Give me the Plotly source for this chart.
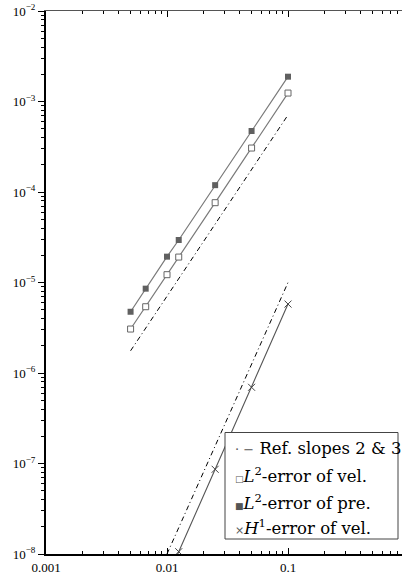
import plotly.graph_objects as go

h = [0.005, 1/150, 0.01, 0.0125, 0.025, 0.05, 0.1]
l2_vel = [3.06e-6, 5.4e-6, 1.22e-5, 1.91e-5, 7.62e-5, 3.06e-4, 1.24e-3]
l2_pre = [4.75e-6, 8.55e-6, 1.93e-5, 2.95e-5, 1.19e-4, 4.72e-4, 1.88e-3]
h_h1 = [0.01, 0.0125, 0.025, 0.05, 0.1]
h1_vel = [5.5e-9, 1.06e-8, 8.63e-8, 6.95e-7, 5.78e-6]
ref2_x = [0.005, 0.1]
ref2_y = [1.76e-6, 7.1e-4]
ref3_x = [0.01, 0.1]
ref3_y = [1.0e-8, 1.0e-5]

legend_markers = ["· −", "□", "■", "×"]
legend_labels = [" Ref. slopes 2 &amp; 3",
                 "<i>L</i><sup>2</sup>-error of vel.",
                 "<i>L</i><sup>2</sup>-error of pre.",
                 "<i>H</i><sup>1</sup>-error of vel."]
ytick_vals = [1e-8, 1e-7, 1e-6, 1e-5, 1e-4, 1e-3, 1e-2]
ytick_text = ["10<sup>−8</sup>", "10<sup>−7</sup>", "10<sup>−6</sup>", "10<sup>−5</sup>",
              "10<sup>−4</sup>", "10<sup>−3</sup>", "10<sup>−2</sup>"]
xtick_vals = [0.001, 0.01, 0.1]
xtick_text = ["0.001", "0.01", "0.1"]

FONT = "Liberation Serif"
LFONT = "DejaVu Serif"
W, H = 402, 582
PL, PT, PB = 46, 11, 554
ML, MT, MB = PL, PT, H - PB
PH = PB - PT
VIS_R = W
xr = [-3, -3 + (VIS_R - PL) / 121.0]
PWV = VIS_R - PL

fig = go.Figure()
line_gray = "#7a7a7a"
fig.add_trace(go.Scatter(x=ref2_x, y=ref2_y, mode="lines",
                         line=dict(color="black", width=1, dash="5px,3px,1px,3px")))
fig.add_trace(go.Scatter(x=ref3_x, y=ref3_y, mode="lines",
                         line=dict(color="black", width=1, dash="5px,3px,1px,3px")))
fig.add_trace(go.Scatter(x=h, y=l2_vel, mode="lines+markers",
                         line=dict(color=line_gray, width=1.2),
                         marker=dict(symbol="square", size=6, color="white",
                                     line=dict(color="#666666", width=1))))
fig.add_trace(go.Scatter(x=h, y=l2_pre, mode="lines+markers",
                         line=dict(color=line_gray, width=1.2),
                         marker=dict(symbol="square", size=6, color="#606060",
                                     line=dict(color="#606060", width=0))))
fig.add_trace(go.Scatter(x=h_h1, y=h1_vel, mode="lines+markers",
                         line=dict(color="#555555", width=1.1),
                         marker=dict(symbol="x-thin", size=7,
                                     line=dict(color="#444444", width=1))))

def px2paper_x(p):
    return (p - PL) / PWV

def px2paper_y(p):
    return (PB - p) / PH

shapes = [dict(type="rect", xref="paper", yref="paper",
               x0=px2paper_x(225), x1=px2paper_x(398),
               y0=px2paper_y(539), y1=px2paper_y(432.5),
               line=dict(color="#444444", width=1), fillcolor="white", layer="above")]
annotations = []
row_y = [448, 475, 501.5, 527]
mark_sizes = [13, 9, 9, 11]
for mk, ms, txt, ry in zip(legend_markers, mark_sizes, legend_labels, row_y):
    annotations.append(dict(xref="paper", yref="paper", x=px2paper_x(233), y=px2paper_y(ry),
                            text=f'<span style="font-size:{ms}px;color:#555">{mk}</span>{txt}',
                            showarrow=False, xanchor="left", yanchor="middle",
                            font=dict(family=LFONT, size=16.5, color="black")))

fig.update_layout(
    width=W, height=H,
    margin=dict(l=ML, r=0, t=MT, b=MB, pad=0, autoexpand=False),
    paper_bgcolor="white", plot_bgcolor="white",
    showlegend=False, hovermode=False,
    shapes=shapes, annotations=annotations,
    font=dict(family=FONT, size=13, color="black"),
    xaxis=dict(type="log", range=xr, showgrid=False, zeroline=False,
               showline=True, linecolor="black", linewidth=2,
               ticks="inside", ticklen=6, tickwidth=1, tickcolor="black",
               tickvals=xtick_vals, ticktext=xtick_text,
               minor=dict(ticks="inside", ticklen=3, tickcolor="black", showgrid=False,
                          dtick="D1"),
               tickfont=dict(family=FONT, size=13)),
    xaxis2=dict(type="log", range=xr, overlaying="x", side="top", showgrid=False,
                zeroline=False, showline=True, linecolor="#555555", linewidth=1,
                ticks="inside", ticklen=6, tickwidth=1, tickcolor="black",
                tickvals=xtick_vals, showticklabels=False,
                minor=dict(ticks="inside", ticklen=3, tickcolor="black", showgrid=False,
                           dtick="D1")),
    yaxis=dict(type="log", range=[-8, -2], showgrid=False, zeroline=False,
               showline=True, linecolor="black", linewidth=2,
               ticks="outside", ticklen=6, tickwidth=1, tickcolor="black",
               tickvals=ytick_vals, ticktext=ytick_text,
               minor=dict(ticks="outside", ticklen=3, tickcolor="black", showgrid=False,
                          dtick="D1"),
               tickfont=dict(family=FONT, size=13)),
)
fig.add_trace(go.Scatter(x=[0.01], y=[1e-5], xaxis="x2", mode="markers",
                         marker=dict(opacity=0), hoverinfo="skip"))
fig.write_html("out.html", config={"staticPlot": True, "displayModeBar": False},
               post_script="var d=document.getElementById('{plot_id}');"
                           "d.style.position='absolute';d.style.left='0px';d.style.top='0px';")
